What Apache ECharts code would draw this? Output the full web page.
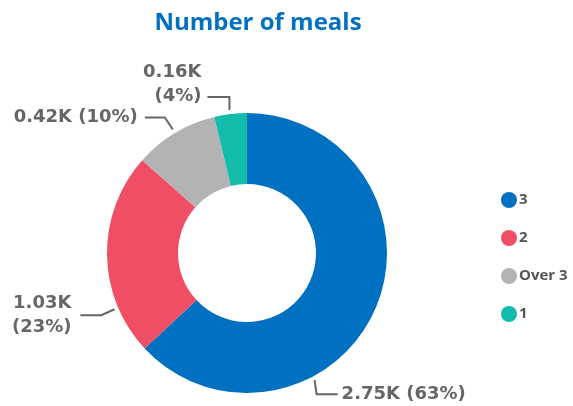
<!DOCTYPE html>
<html><head><meta charset="utf-8">
<script src="https://cdn.jsdelivr.net/npm/echarts@6/dist/echarts.min.js"></script>
<style>html,body{margin:0;padding:0;background:#fff}#c{width:573px;height:406px}</style>
</head><body><div id="c"></div>
<script>
const categories = ["3", "2", "Over 3", "1"];
const values = [2754, 1026, 424, 164];
const colors = ["#0070c0", "#f04e64", "#b3b3b3", "#13bbab"];

const CX = 247, CY = 253, R_IN = 69, R_OUT = 140;
// label line geometry per slice: anchor angle (deg), elbow offset, horizontal run, two-line label?
const labelSpec = [
  {ang: -62, ex: 2, ey: 14, run: 21, gap: 4, two: false},
  {ang: 203, ex: -13, ey: 6, run: -21, gap: -9, two: true},
  {ang: 121, ex: -8, ey: -12, run: -20, gap: -7, two: false},
  {ang: 97, ex: 0, ey: -13, run: -22, gap: -6, two: true}
];

const chart = echarts.init(document.getElementById('c'), null, {renderer: 'canvas'});
const font = "'Open Sans', sans-serif";
const lfont = "'DejaVu Sans', sans-serif";
chart.setOption({
  animation: false,
  title: {
    text: 'Number of meals', left: 253, top: 6, textAlign: 'center',
    textStyle: {color: '#0070c0', fontSize: 24, fontWeight: 'bold', fontFamily: font}
  },
  legend: {
    orient: 'vertical', left: 496, top: 187, itemGap: 22,
    icon: 'circle', itemWidth: 18, itemHeight: 16,
    data: categories,
    textStyle: {color: '#555', fontSize: 15, fontWeight: 'bold', fontFamily: font, padding: [0, 0, 0, -4]}
  },
  series: [{
    type: 'pie',
    center: [CX, CY], radius: [R_IN, R_OUT],
    startAngle: 90, clockwise: true,
    percentPrecision: 0,
    data: categories.map((c, i) => ({name: c, value: values[i], itemStyle: {color: colors[i]}})),
    label: {
      show: true, color: '#666', fontSize: 18, fontWeight: 'bold', fontFamily: lfont, lineHeight: 24,
      overflow: 'none',
      formatter: p => {
        const k = (p.value / 1000).toFixed(2) + 'K';
        const br = labelSpec[p.dataIndex].two ? '\n' : ' ';
        return k + br + '(' + p.percent + '%)';
      }
    },
    labelLine: {show: true, length: 14, length2: 20, lineStyle: {color: '#666', width: 2}},
    labelLayout: params => {
      const s = labelSpec[params.dataIndex];
      const a = s.ang * Math.PI / 180;
      const r = R_OUT + 4;
      const p0 = [CX + r * Math.cos(a), CY - r * Math.sin(a)];
      const p1 = [p0[0] + s.ex, p0[1] + s.ey];
      const p2 = [p1[0] + s.run, p1[1]];
      const right = s.run > 0;
      return {
        x: p2[0] + s.gap,
        y: p2[1] + (s.two && params.dataIndex === 3 ? -13 : 0),
        align: right ? 'left' : 'right',
        verticalAlign: 'middle',
        labelLinePoints: [p0, p1, p2]
      };
    },
    emphasis: {disabled: true}
  }]
});
</script></body></html>
